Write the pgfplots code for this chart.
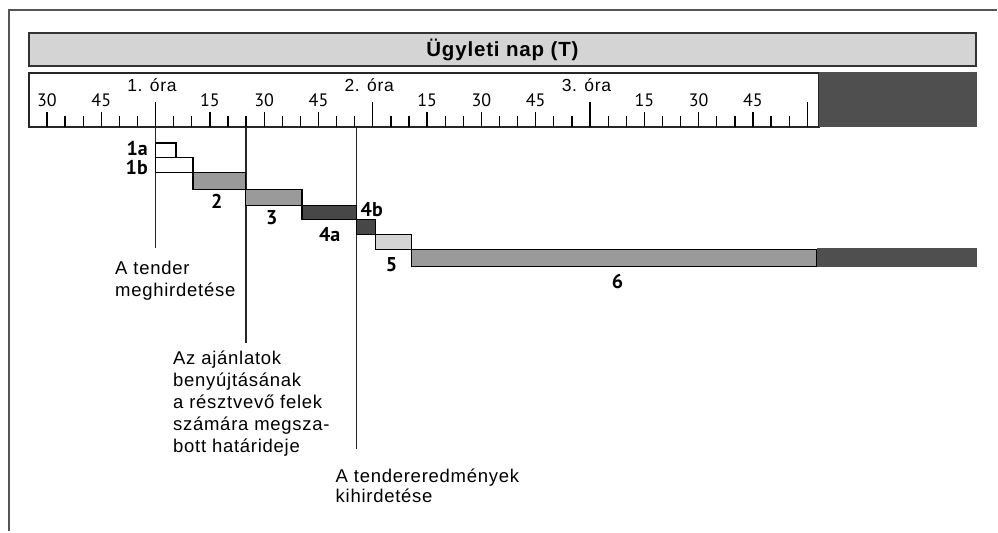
\documentclass[border=0pt]{standalone}
\usepackage{fontspec}
\setmainfont[LetterSpace=4]{Liberation Sans}
\newfontfamily\numfont{PT Sans}
\usepackage{pgfplots}
\pgfplotsset{compat=1.18}
\definecolor{titlegray}{HTML}{D4D4D4}
\definecolor{rulerdark}{HTML}{4F4F4F}
\definecolor{midgray}{HTML}{9A9A9A}
\definecolor{lightgray5}{HTML}{D4D4D4}
\definecolor{bardark}{HTML}{474747}
\definecolor{framegray}{HTML}{555555}
\begin{document}
\begin{tikzpicture}
\begin{axis}[
  width=998pt, height=532pt, scale only axis,
  xmin=17.03, xmax=292.4, ymin=0, ymax=532,
  y dir=reverse, hide axis, clip=false,
]
% outer frame (top and left)
\addplot[framegray, line width=2pt] coordinates {(19.51,532) (19.51,10) (292.4,10)};
% title bar
\addplot[fill=titlegray, draw=black!80, line width=1.8pt] coordinates {(25.03,33) (286.6,33) (286.6,66) (25.03,66)} -- cycle;
% ruler
\addplot[fill=white, draw=black!85, line width=1.5pt] coordinates {(25.03,73) (243.3,73) (243.3,127) (25.03,127)} -- cycle;
\addplot[fill=rulerdark, draw=rulerdark, line width=1pt] coordinates {(243.3,73) (286.6,73) (286.6,127) (243.3,127)} -- cycle;
% ruler ticks: 5-minute
\addplot[only marks, mark=|, mark size=5.5pt, mark options={line width=1.3pt, black}] coordinates {
 (35,121.5) (40,121.5) (50,121.5) (55,121.5) (65,121.5) (70,121.5) (80,121.5) (85,121.5)
 (95,121.5) (100,121.5) (110,121.5) (115,121.5) (125,121.5) (130,121.5) (140,121.5) (145,121.5)
 (155,121.5) (160,121.5) (170,121.5) (175,121.5) (185,121.5) (190,121.5) (200,121.5) (205,121.5)
 (215,121.5) (220,121.5) (230,121.5) (235,121.5)};
% quarter-hour ticks
\addplot[only marks, mark=|, mark size=7.5pt, mark options={line width=1.3pt, black}] coordinates {
 (30,119.5) (45,119.5) (75,119.5) (90,119.5) (105,119.5) (135,119.5) (150,119.5) (165,119.5)
 (195,119.5) (210,119.5) (225,119.5)};
% hour ticks
\addplot[only marks, mark=|, mark size=12.5pt, mark options={line width=1.3pt, black}] coordinates {
 (60,114.5) (120,114.5) (180,114.5) (240,114.5)};
% minute labels
\tikzset{mnl/.style={font=\numfont\fontsize{18}{18}\selectfont, anchor=center}}
\node[mnl] at (axis cs:30,100) {30};
\node[mnl] at (axis cs:45,100) {45};
\node[mnl] at (axis cs:75,100) {15};
\node[mnl] at (axis cs:90,100) {30};
\node[mnl] at (axis cs:105,100) {45};
\node[mnl] at (axis cs:135,100) {15};
\node[mnl] at (axis cs:150,100) {30};
\node[mnl] at (axis cs:165,100) {45};
\node[mnl] at (axis cs:195,100) {15};
\node[mnl] at (axis cs:210,100) {30};
\node[mnl] at (axis cs:225,100) {45};
% hour labels
\tikzset{hrl/.style={font=\fontsize{17.5}{17.5}\selectfont, anchor=center}}
\node[hrl] at (axis cs:59,85) {1. óra};
\node[hrl] at (axis cs:119,85) {2. óra};
\node[hrl] at (axis cs:179,85) {3. óra};
% title
\node[font=\bfseries\fontsize{20.5}{20.5}\selectfont] at (axis cs:155.8,50) {Ügyleti nap (T)};
% vertical event lines
\addplot[black!85, line width=1.7pt] coordinates {(60,127) (60,248)};
\addplot[black!85, line width=1.7pt] coordinates {(84.9,127) (84.9,343)};
\addplot[black!85, line width=1.7pt] coordinates {(115.5,127) (115.5,449)};
% phases
\addplot[fill=white, draw=black, line width=1.3pt] coordinates {(60,143) (65.6,143) (65.6,158) (60,158)} -- cycle;
\addplot[fill=white, draw=black, line width=1.3pt] coordinates {(60,158) (70.3,158) (70.3,173) (60,173)} -- cycle;
\addplot[fill=midgray, draw=black, line width=1.3pt] coordinates {(70.3,173) (84.9,173) (84.9,190) (70.3,190)} -- cycle;
\addplot[fill=midgray, draw=black, line width=1.3pt] coordinates {(84.9,190) (100.4,190) (100.4,206) (84.9,206)} -- cycle;
\addplot[fill=bardark, draw=black, line width=1.3pt] coordinates {(100.4,206) (115.5,206) (115.5,220) (100.4,220)} -- cycle;
\addplot[fill=bardark, draw=black, line width=1.3pt] coordinates {(115.5,220) (120.8,220) (120.8,235) (115.5,235)} -- cycle;
\addplot[fill=lightgray5, draw=black, line width=1.3pt] coordinates {(120.8,235) (130.7,235) (130.7,250) (120.8,250)} -- cycle;
\addplot[fill=midgray, draw=black, line width=1.3pt] coordinates {(130.7,250) (242.7,250) (242.7,267) (130.7,267)} -- cycle;
\addplot[fill=rulerdark, draw=rulerdark, line width=0.8pt] coordinates {(242.7,249) (286.6,249) (286.6,267) (242.7,267)} -- cycle;
% phase labels
\tikzset{phl/.style={font=\numfont\bfseries\fontsize{20}{20}\selectfont, inner sep=0pt}}
\node[phl, anchor=east] at (axis cs:57.9,149) {1a};
\node[phl, anchor=east] at (axis cs:57.9,168) {1b};
\node[phl] at (axis cs:76.9,202) {2};
\node[phl] at (axis cs:92.1,218) {3};
\node[phl] at (axis cs:108.1,235) {4a};
\node[phl, anchor=west] at (axis cs:116.6,210) {4b};
\node[phl] at (axis cs:125.2,265) {5};
\node[phl] at (axis cs:187.6,282) {6};
% annotations
\tikzset{ann/.style={font=\fontsize{18.5}{22}\selectfont, align=left, anchor=north west, inner sep=0pt}}
\node[ann] at (axis cs:48.8,261) {A tender\\meghirdetése};
\node[ann] at (axis cs:64.8,351) {Az ajánlatok\\benyújtásának\\a résztvevő felek\\számára megsza-\\bott határideje};
\node[ann, font=\fontsize{18.5}{20}\selectfont] at (axis cs:109.7,469) {A tendereredmények\\kihirdetése};
\end{axis}
\path (current axis.south west) rectangle (current axis.north east);
\end{tikzpicture}
\end{document}
